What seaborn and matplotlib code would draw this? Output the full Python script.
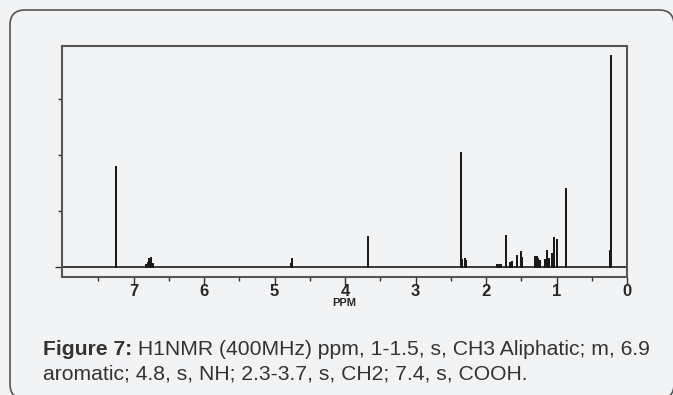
import matplotlib
matplotlib.use('Agg')
import matplotlib.pyplot as plt
from matplotlib.patches import FancyBboxPatch
from matplotlib.transforms import IdentityTransform
import pandas as pd
import seaborn as sns

# peak positions (ppm) and heights (arbitrary units, tick step = 1)
ppm = [7.25, 6.83, 6.80, 6.78, 6.76, 6.73, 4.77, 4.75, 3.67,
       2.35, 2.34, 2.30, 2.28, 1.84, 1.82, 1.79, 1.72, 1.71, 1.66, 1.63,
       1.56, 1.51, 1.49, 1.30, 1.28, 1.26, 1.23, 1.17, 1.15, 1.13, 1.11,
       1.07, 1.05, 1.03, 1.00, 0.87, 0.86, 0.24, 0.23]
height = [1.78, 0.04, 0.07, 0.14, 0.16, 0.06, 0.06, 0.14, 0.54,
          2.03, 0.12, 0.14, 0.10, 0.04, 0.04, 0.03, 0.36, 0.56, 0.08, 0.09,
          0.20, 0.26, 0.16, 0.18, 0.17, 0.15, 0.10, 0.12, 0.09, 0.29, 0.14,
          0.23, 0.20, 0.52, 0.49, 0.21, 1.39, 0.29, 3.77]
xlim = (8.02, 0.0)
major_ticks = [0, 1, 2, 3, 4, 5, 6, 7]
minor_ticks = [0.5, 1.5, 2.5, 3.5, 4.5, 5.5, 6.5, 7.5]
caption_bold = "Figure 7:"
caption_1 = " H1NMR (400MHz) ppm, 1-1.5, s, CH3 Aliphatic; m, 6.9"
caption_2 = "aromatic; 4.8, s, NH; 2.3-3.7, s, CH2; 7.4, s, COOH."

bg = "#f2f3f5"
sns.set_theme(style="white", rc={"figure.facecolor": bg, "axes.facecolor": bg})
plt.rcParams['font.family'] = ['Liberation Sans', 'DejaVu Sans']

# stick spectrum as one polyline: baseline -> top -> baseline for each peak
order = sorted(range(len(ppm)), key=lambda i: -ppm[i])
xs, ys = [xlim[0]], [0.0]
for i in order:
    xs += [ppm[i], ppm[i], ppm[i]]
    ys += [0.0, height[i], 0.0]
xs.append(xlim[1]); ys.append(0.0)
df = pd.DataFrame({"ppm": xs, "intensity": ys})

fig = plt.figure(figsize=(6.73, 3.95), dpi=100)
W, H = 673, 395

# rounded panel border (pixel coordinates, origin bottom-left)
panel = FancyBboxPatch((10, -4), 664, H - 10 + 4,
                       boxstyle="round,pad=0,rounding_size=15",
                       transform=IdentityTransform(), facecolor=bg,
                       edgecolor="#555555", linewidth=1.2, zorder=-10)
fig.patches.append(panel)

ax = fig.add_axes([61.7 / W, 1 - 277 / H, (627 - 61.7) / W, (277 - 45.7) / H])
ax.set_facecolor(bg)
sns.lineplot(data=df, x="ppm", y="intensity", sort=False, estimator=None,
             color="#1a1a1a", linewidth=1.2, ax=ax)
ax.set_xlim(*xlim)
ax.set_ylim(-10 / 56, (267 - 45.7) / 56)

for s in ax.spines.values():
    s.set_color("#555555")
    s.set_linewidth(1.5)

ax.set_xticks(major_ticks)
ax.set_xticks(minor_ticks, minor=True)
ax.set_xticklabels([str(t) for t in major_ticks], fontsize=12, fontweight="bold")
ax.set_yticks([0])
ax.set_yticks([1, 2, 3], minor=True)
ax.set_yticklabels([])
ax.tick_params(axis="x", which="major", direction="out", length=6, width=1,
               color="#333333", pad=-1, bottom=True)
ax.tick_params(axis="x", which="minor", direction="out", length=3, width=1,
               color="#333333", bottom=True)
ax.tick_params(axis="y", which="major", direction="out", length=5, width=1,
               color="#333333", left=True)
ax.tick_params(axis="y", which="minor", direction="out", length=3, width=1,
               color="#333333", left=True)
ax.set_xlabel("PPM", fontsize=8, fontweight="bold", labelpad=-1)
ax.set_ylabel("")

# caption
fs = 15.2
t1 = fig.text(43 / W, 1 - 355 / H, caption_bold, fontsize=fs, fontweight="bold",
              color="#333333", va="baseline", ha="left")
fig.canvas.draw()
bb = t1.get_window_extent()
fig.text(bb.x1 / W, 1 - 355 / H, caption_1, fontsize=fs, color="#333333",
         va="baseline", ha="left")
fig.text(43 / W, 1 - 379.3 / H, caption_2, fontsize=fs, color="#333333",
         va="baseline", ha="left")

fig.savefig("out.png", dpi=100, facecolor=bg)
